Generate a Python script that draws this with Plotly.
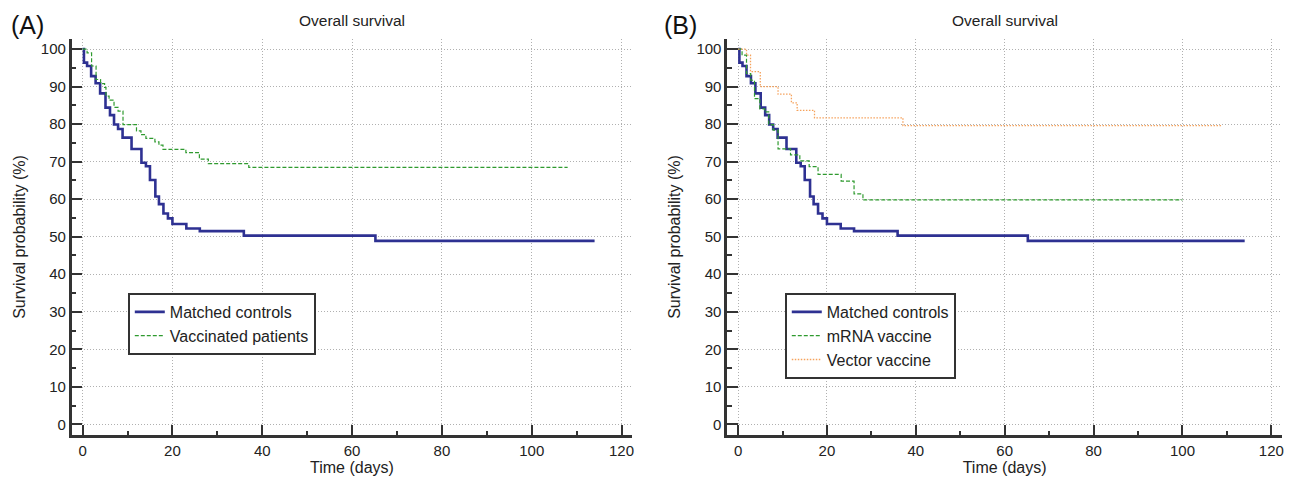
import plotly.graph_objects as go

W, H = 1293, 478

# ---- data (time in days, survival in %) ----
ctrl_t = [0, 0.3, 1.0, 1.9, 2.9, 3.9, 5.1, 6.1, 7.0, 7.9, 8.9, 10.9, 13.1, 14.1, 15.0,
          16.2, 17.0, 18.0, 19.0, 20.0, 23.1, 26.1, 35.9, 65.2, 114.0]
ctrl_s = [100, 96.4, 95.5, 92.8, 90.9, 88.2, 84.4, 82.4, 79.9, 78.7, 76.4, 73.4, 69.7, 68.8, 65.1,
          60.7, 58.7, 56.2, 54.9, 53.4, 52.2, 51.5, 50.3, 48.9, 48.9]

vacc_t = [0, 1.0, 2.0, 3.0, 4.0, 4.9, 5.2, 5.9, 7.0, 7.9, 9.0, 12.0, 13.0, 14.1, 16.1,
          17.0, 17.9, 23.0, 26.0, 28.0, 37.0, 108.0]
vacc_s = [100, 99.0, 95.5, 91.9, 90.8, 89.8, 87.5, 86.4, 84.5, 83.5, 79.9, 78.2, 77.2, 76.2, 75.3,
          74.4, 73.3, 72.4, 70.7, 69.5, 68.5, 68.5]

mrna_t = [0, 0.9, 1.9, 2.85, 3.7, 4.9, 6.0, 6.9, 7.9, 9.0, 11.8, 13.9, 16.0, 18.0,
          23.2, 26.1, 28.1, 100.0]
mrna_s = [100, 98.4, 93.5, 91.7, 86.8, 84.1, 83.3, 79.9, 78.4, 73.4, 71.8, 70.2, 68.7, 66.6,
          64.8, 61.4, 59.8, 59.8]

vect_t = [0, 1.9, 2.8, 5.0, 9.0, 12.0, 13.3, 17.2, 37.1, 108.8]
vect_s = [100, 98.4, 94.0, 90.0, 88.0, 85.7, 83.7, 81.7, 79.6, 79.6]

panel_labels = ["(A)", "(B)"]
panel_title = "Overall survival"
x_title = "Time (days)"
y_title = "Survival probability (%)"

BLUE = "#2E3192"
GREEN = "#2F9A2F"
ORANGE = "#F5A25C"
AXC = "#333333"
FONT = "Liberation Sans, Arial, sans-serif"

fig = go.Figure()

fig.add_trace(go.Scatter(x=ctrl_t, y=ctrl_s, mode="lines", line=dict(shape="hv", color=BLUE, width=2.6),
                         name="Matched controls", xaxis="x", yaxis="y", legend="legend"))
fig.add_trace(go.Scatter(x=vacc_t, y=vacc_s, mode="lines", line=dict(shape="hv", color=GREEN, width=1.2, dash="4px,2px"),
                         name="Vaccinated patients", xaxis="x", yaxis="y", legend="legend"))

fig.add_trace(go.Scatter(x=ctrl_t, y=ctrl_s, mode="lines", line=dict(shape="hv", color=BLUE, width=2.6),
                         name="Matched controls", xaxis="x2", yaxis="y2", legend="legend2"))
fig.add_trace(go.Scatter(x=mrna_t, y=mrna_s, mode="lines", line=dict(shape="hv", color=GREEN, width=1.2, dash="4px,2px"),
                         name="mRNA vaccine", xaxis="x2", yaxis="y2", legend="legend2"))
fig.add_trace(go.Scatter(x=vect_t, y=vect_s, mode="lines", line=dict(shape="hv", color=ORANGE, width=1.3, dash="1.5px,1.5px"),
                         name="Vector vaccine", xaxis="x2", yaxis="y2", legend="legend2"))

xdomA = [71.7 / W, 633.3 / W]
xdomB = [728.3 / W, 1284.0 / W]
ydom = [1 - 435.0 / H, 1 - 39.0 / H]

def xax(domain, anchor):
    return dict(domain=domain, anchor=anchor, range=[-2.45, 122.4], tickmode="linear", tick0=0, dtick=20,
                ticks="inside", ticklen=10, tickwidth=2, tickcolor=AXC,
                minor=dict(dtick=10, tick0=0, ticks="inside", ticklen=4, tickwidth=1.5, tickcolor=AXC, showgrid=False),
                showline=True, linecolor=AXC, linewidth=2.5, zeroline=False,
                showgrid=True, gridcolor="#b0b0b0", gridwidth=1, griddash="1px,2px",
                tickfont=dict(family=FONT, size=15, color="#222"),
                title=dict(text=x_title, font=dict(family=FONT, size=16, color="#222"), standoff=2))

def yax(domain, anchor):
    return dict(domain=domain, anchor=anchor, range=[-2.85, 102.7], tickmode="linear", tick0=0, dtick=10,
                ticks="inside", ticklen=11, tickwidth=2, tickcolor=AXC,
                minor=dict(dtick=5, tick0=0, ticks="inside", ticklen=5, tickwidth=1.5, tickcolor=AXC, showgrid=False),
                showline=True, linecolor=AXC, linewidth=2.5, zeroline=False,
                showgrid=True, gridcolor="#b0b0b0", gridwidth=1, griddash="1px,2px",
                tickfont=dict(family=FONT, size=15, color="#222"),
                title=dict(text=y_title, font=dict(family=FONT, size=16, color="#222"), standoff=12))

legend_common = dict(bgcolor="white", bordercolor=AXC, borderwidth=2,
                     font=dict(family=FONT, size=16, color="#222"),
                     xanchor="left", yanchor="top", tracegroupgap=0, itemwidth=30)

fig.update_layout(
    width=W, height=H, margin=dict(l=0, r=0, t=0, b=0),
    paper_bgcolor="white", plot_bgcolor="white",
    xaxis=xax(xdomA, "y"), yaxis=yax(ydom, "x"),
    xaxis2=xax(xdomB, "y2"), yaxis2=yax(ydom, "x2"),
    legend=dict(x=128 / W, y=1 - 293 / H, **legend_common),
    legend2=dict(x=786 / W, y=1 - 293 / H, **legend_common),
    showlegend=True,
    annotations=[
        dict(text=panel_labels[0], x=9 / W, y=1 - 25 / H, xref="paper", yref="paper", xanchor="left", yanchor="middle",
             showarrow=False, font=dict(family=FONT, size=25, color="#111")),
        dict(text=panel_labels[1], x=663 / W, y=1 - 25 / H, xref="paper", yref="paper", xanchor="left", yanchor="middle",
             showarrow=False, font=dict(family=FONT, size=25, color="#111")),
        dict(text=panel_title, x=(xdomA[0] + xdomA[1]) / 2, y=1 - 20 / H, xref="paper", yref="paper",
             xanchor="center", yanchor="middle", showarrow=False, font=dict(family=FONT, size=15.5, color="#222")),
        dict(text=panel_title, x=(xdomB[0] + xdomB[1]) / 2, y=1 - 20 / H, xref="paper", yref="paper",
             xanchor="center", yanchor="middle", showarrow=False, font=dict(family=FONT, size=15.5, color="#222")),
    ],
)

fig.write_html("out.html", config={"displayModeBar": False},
               post_script="document.body.style.margin='0';document.body.style.overflow='hidden';")
